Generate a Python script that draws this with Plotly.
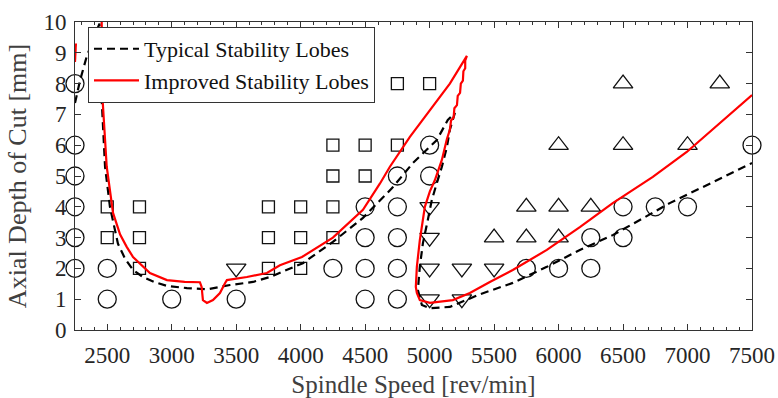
import plotly.graph_objects as go

# ---------------- data ----------------
# Test points (spindle speed [rev/min], axial depth [mm])
circle_x = [2250, 2250, 2250, 2250, 2250, 2250, 2500, 2500, 3000, 3500, 4250,
            4500, 4500, 4500, 4500, 4750, 4750, 4750, 4750, 4750, 5000, 5000,
            5750, 6000, 6250, 6250, 6500, 6500, 6750, 7000, 7500]
circle_y = [2, 3, 4, 5, 6, 8, 1, 2, 1, 1, 2,
            1, 2, 3, 4, 1, 2, 3, 4, 5, 5, 6,
            2, 2, 2, 3, 3, 4, 4, 4, 6]

square_x = [2500, 2500, 2750, 2750, 2750, 3750, 3750, 3750, 4000, 4000, 4000,
            4250, 4250, 4250, 4250, 4500, 4500, 4750, 4750, 5000]
square_y = [3, 4, 2, 3, 4, 2, 3, 4, 2, 3, 4,
            3, 4, 5, 6, 5, 6, 6, 8, 8]

tri_up_x = [5500, 5750, 5750, 6000, 6000, 6000, 6250, 6500, 6500, 7000, 7250]
tri_up_y = [3, 3, 4, 3, 4, 6, 4, 6, 8, 6, 8]

tri_down_x = [3500, 5000, 5000, 5000, 5000, 5250, 5250, 5500]
tri_down_y = [2, 1, 2, 3, 4, 1, 2, 2]

# Typical stability lobes (black dashed)
typ_x = [2250, 2289, 2340, 2390, 2440, 2447, 2457, 2483, 2521, 2583, 2640, 2700,
         2777, 2870, 2963, 3118, 3273, 3452, 3630, 3762, 3890, 4017, 4250, 4483,
         4707, 4870, 5056, 5141, 5196, 5157, 5134, 5095, 5056, 5017, 4986, 4948,
         4924, 4909, 4940, 5002, 5157, 5390, 5645, 5909, 6165, 6420, 6630, 6862,
         7118, 7500]
typ_y = [7.37, 8.1, 8.87, 9.4, 9.95, 9.2, 7.47, 5.3, 4.0, 2.8, 2.3, 1.95,
         1.72, 1.55, 1.43, 1.36, 1.32, 1.46, 1.56, 1.72, 1.95, 2.17, 2.86, 3.64,
         4.6, 5.42, 6.17, 6.82, 7.05, 6.5, 5.94, 5.3, 4.77, 4.22, 3.57, 2.82,
         2.05, 1.3, 0.81, 0.71, 0.75, 1.16, 1.53, 2.05, 2.6, 3.08, 3.57, 4.12,
         4.64, 5.42]

# Improved stability lobes (red solid), lobe segments
imp1_x = [2250, 2257]
imp1_y = [8.7, 9.3]

imp2_x = [2457, 2464, 2496, 2545, 2600, 2651, 2700, 2831, 2963, 3100, 3219,
          3232, 3242, 3273, 3320, 3374, 3413, 3428, 3583, 3738, 3839, 4010,
          4250, 4483, 4614, 4692, 4847, 5002, 5157, 5289,
          5276, 5276, 5262, 5258, 5242, 5236, 5218, 5212, 5192, 5186, 5166,
          5157, 5134, 5095, 5041, 5002, 4963, 4924, 4901, 4893, 4901, 4924,
          5002, 5180, 5312, 5467, 5645, 5909, 6165, 6420, 6731, 6994, 7250, 7500]
imp2_y = [10.0, 7.47, 5.3, 3.8, 3.1, 2.7, 2.37, 1.85, 1.62, 1.56, 1.55,
          1.4, 0.97, 0.88, 0.97, 1.2, 1.52, 1.62, 1.72, 1.85, 2.1, 2.37,
          3.0, 3.9, 4.75, 5.3, 6.27, 7.14, 8.0, 8.9,
          8.75, 8.5, 8.4, 8.1, 8.0, 7.7, 7.6, 7.3, 7.2, 6.9, 6.8,
          6.5, 6.2, 5.52, 4.87, 4.5, 4.0, 2.92, 2.05, 1.4, 1.2, 0.97,
          0.88, 0.97, 1.2, 1.56, 1.95, 2.6, 3.34, 4.12, 4.97, 5.78, 6.7, 7.63]

x_ticks = [2500, 3000, 3500, 4000, 4500, 5000, 5500, 6000, 6500, 7000, 7500]
y_ticks = [0, 1, 2, 3, 4, 5, 6, 7, 8, 9, 10]

legend_names = ["Typical Stability Lobes", "Improved Stability Lobes"]

# ---------------- figure ----------------
FONT = "Liberation Serif, Times New Roman, serif"
mk_line = dict(color="#111111", width=1.3)

fig = go.Figure()

fig.add_trace(go.Scatter(x=circle_x, y=circle_y, mode="markers", showlegend=False,
                         cliponaxis=False,
                         marker=dict(symbol="circle-open", size=18, line=mk_line, color="#111111")))
fig.add_trace(go.Scatter(x=square_x, y=square_y, mode="markers", showlegend=False,
                         cliponaxis=False,
                         marker=dict(symbol="square-open", size=12, line=mk_line, color="#111111")))
fig.add_trace(go.Scatter(x=tri_up_x, y=tri_up_y, mode="markers", showlegend=False,
                         cliponaxis=False,
                         marker=dict(symbol="triangle-up-open", size=17, line=mk_line, color="#111111")))
fig.add_trace(go.Scatter(x=tri_down_x, y=tri_down_y, mode="markers", showlegend=False,
                         cliponaxis=False,
                         marker=dict(symbol="triangle-down-open", size=17, line=mk_line, color="#111111")))

fig.add_trace(go.Scatter(x=typ_x, y=typ_y, mode="lines", name=legend_names[0],
                         line=dict(color="black", width=2.2, dash="8px,5px")))
fig.add_trace(go.Scatter(x=imp1_x, y=imp1_y, mode="lines", showlegend=False,
                         line=dict(color="#ff0000", width=2.2)))
fig.add_trace(go.Scatter(x=imp2_x, y=imp2_y, mode="lines", name=legend_names[1],
                         line=dict(color="#ff0000", width=2.2)))

axis_common = dict(showline=True, linecolor="#333333", linewidth=1, mirror="ticks",
                   ticks="inside", ticklen=6, tickcolor="#333333", showgrid=False,
                   zeroline=False, automargin=False,
                   tickfont=dict(family=FONT, size=23, color="#262626"))

fig.update_xaxes(range=[2250, 7500], tickvals=x_ticks, ticktext=[str(v) for v in x_ticks],
                 minor=dict(ticks="inside", ticklen=3, dtick=100, tick0=2300,
                            tickcolor="#333333", showgrid=False),
                 title=dict(text="Spindle Speed [rev/min]",
                            font=dict(family=FONT, size=25, color="#404040"), standoff=13),
                 ticklabelstandoff=4,
                 **axis_common)
fig.update_yaxes(range=[0, 10], tickvals=y_ticks, ticktext=[str(v) for v in y_ticks],
                 title=dict(text="Axial Depth of Cut [mm]",
                            font=dict(family=FONT, size=26, color="#404040"), standoff=9),
                 ticklabelstandoff=3,
                 **axis_common)

fig.update_layout(
    width=778, height=398,
    margin=dict(l=75, r=26, t=22, b=68),
    paper_bgcolor="white", plot_bgcolor="white",
    font=dict(family=FONT),
    legend=dict(x=0.0192, y=0.984, xanchor="left", yanchor="top",
                bgcolor="white", bordercolor="#333333", borderwidth=1,
                font=dict(family=FONT, size=22, color="#111111"),
                itemwidth=45, tracegroupgap=0),
)

fig.write_html("out.html", config={"displayModeBar": False},
               post_script="document.body.style.margin='0';document.body.style.overflow='hidden';")
